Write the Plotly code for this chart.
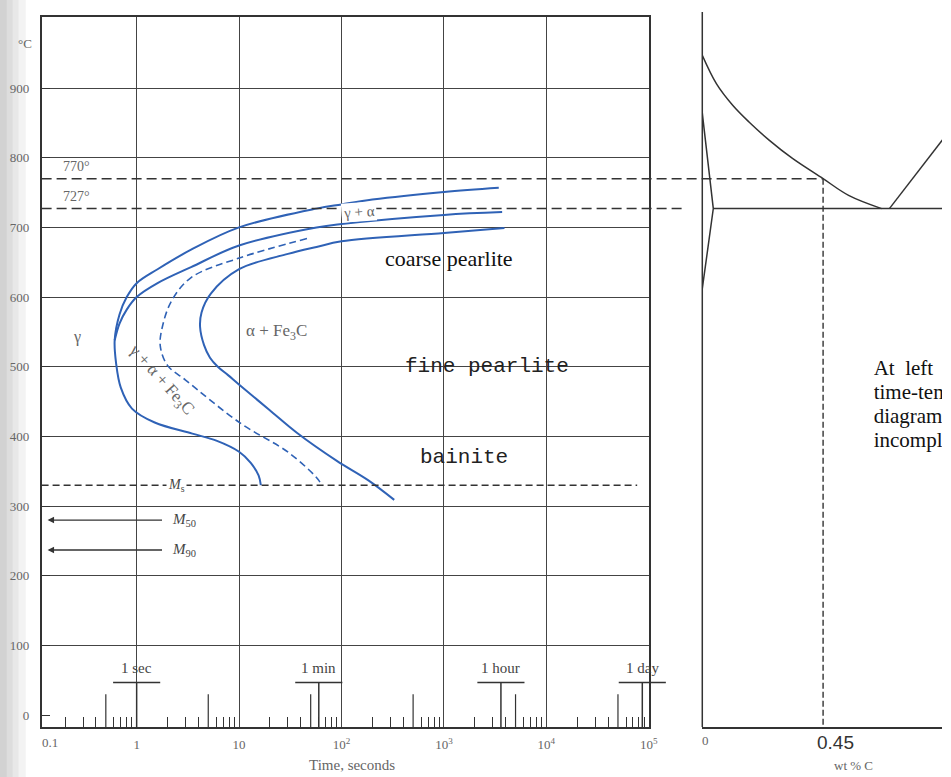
import math
import plotly.graph_objects as go

W, H = 951, 777

# ---------------- data: TTT diagram (time in s, temperature in degC) ----------------
start_upper_t = [3430, 1000, 200, 100, 57, 10, 3.4, 1.6, 1.0, 0.8, 0.68, 0.61]
start_upper_T = [757, 751, 740, 733, 727, 700, 668, 640, 620, 600, 575, 538]
start_lower_t = [0.63, 0.7, 0.9, 1.5, 3.5, 6, 10, 13, 15.5, 16.3]
start_lower_T = [505, 470, 440, 420, 404, 394, 378, 362, 344, 330]
pearl_t = [3700, 1000, 100, 57, 10, 3.4, 1.6, 1.0, 0.8, 0.68, 0.61]
pearl_T = [722, 718, 705, 700, 674, 643, 620, 600, 582, 562, 538]
half_t = [46, 10, 3.4, 2.2, 1.8, 1.7, 2.0, 3.0, 10.3, 31, 60, 63]
half_T = [684, 656, 628, 595, 560, 530, 502, 481, 419, 376, 337, 330]
finish_t = [3900, 1000, 100, 57, 30, 10, 5.3, 4.3, 4.16, 4.55, 5.2, 6.2, 7.8, 9.9, 19.8, 36.9, 90, 183, 327]
finish_T = [699, 692, 680, 672, 662, 640, 605, 578, 557, 531, 513, 500, 488, 475, 438, 405, 365, 337, 309]

A3_T = 770          # upper critical line
A1_T = 727          # eutectoid line
ms_T = 330          # martensite start
ms_span = [0.118, 7.7e4]
m50_T = 280
m90_T = 237
m_arrow_t = [1.83, 0.135]   # tail, head

temp_ticks = [0, 100, 200, 300, 400, 500, 600, 700, 800, 900]
temp_grid = [100, 200, 300, 400, 500, 600, 700, 800, 900]
time_ticks = [1, 10, 100, 1000, 10000, 100000]
time_ticktext = ["1", "10", "10<sup>2</sup>", "10<sup>3</sup>", "10<sup>4</sup>", "10<sup>5</sup>"]
decades = [0.1, 1, 10, 100, 1000, 10000]
minor_mult = [2, 3, 4, 6, 7, 8, 9]
tall_mult = [5]

time_marks = [1, 60, 3600, 86400]
time_mark_labels = ["1 sec", "1 min", "1 hour", "1 day"]

# ---------------- data: partial Fe-C phase diagram (wt% C, degC) ----------------
a3_wt = [0.0, 0.053, 0.114, 0.175, 0.25, 0.336, 0.45, 0.545, 0.668]
a3_T = [947, 906, 875, 851, 825, 799, 770, 746, 727]
ferrite_wt = [0.0, 0.041, 0.0]
ferrite_T = [864, 727, 612]
eut_wt = [0.041, 0.95]
eut_T = [727, 727]
acm_wt = [0.697, 0.95]
acm_T = [727, 853]
steel_wt = 0.45

side_lines = ["At\u00a0\u00a0left", "time-temperature", "diagram", "incomplete"]

# ---------------- geometry ----------------
XR = (-0.928, 5.0)
XD = (42 / W, 655 / W)
YR = (-17, 1002)
YD = ((H - 727) / H, (H - 17) / H)
X2D = (709 / W, 1.0)
X2R = (0.0, 242 / 271)


def xp(t):
    return XD[0] + (math.log10(t) - XR[0]) / (XR[1] - XR[0]) * (XD[1] - XD[0])


def x2p(w):
    return X2D[0] + (w - X2R[0]) / (X2R[1] - X2R[0]) * (X2D[1] - X2D[0])


BLUE = "#2f62b6"
INK = "#333333"
GRAY = "#666666"
SERIF = "Liberation Serif, Times New Roman, serif"
MONO = "Liberation Mono, Courier New, monospace"

fig = go.Figure()

curve_line = dict(color=BLUE, width=2, shape="spline", smoothing=1.0)
fig.add_trace(go.Scatter(x=start_upper_t + start_lower_t, y=start_upper_T + start_lower_T,
                         mode="lines", line=curve_line, hoverinfo="skip"))
fig.add_trace(go.Scatter(x=pearl_t, y=pearl_T, mode="lines", line=curve_line, hoverinfo="skip"))
fig.add_trace(go.Scatter(x=half_t, y=half_T, mode="lines",
                         line=dict(color=BLUE, width=1.6, dash="7px,4px", shape="spline", smoothing=1.0),
                         hoverinfo="skip"))
fig.add_trace(go.Scatter(x=finish_t, y=finish_T, mode="lines", line=curve_line, hoverinfo="skip"))

# Ms line
fig.add_trace(go.Scatter(x=ms_span, y=[ms_T, ms_T], mode="lines",
                         line=dict(color=INK, width=1.4, dash="7px,4px"), hoverinfo="skip"))

# tall (5x) ticks along the time axis
tx, ty = [], []
for d in decades:
    for m in tall_mult:
        tx += [d * m, d * m, None]
        ty += [YR[0], 30, None]
fig.add_trace(go.Scatter(x=tx, y=ty, mode="lines", line=dict(color=INK, width=1.2), hoverinfo="skip"))

# phase diagram (right panel)
for xs, ys, sh in [(a3_wt, a3_T, "spline"), (ferrite_wt, ferrite_T, "linear"),
                   (eut_wt, eut_T, "linear"), (acm_wt, acm_T, "linear")]:
    fig.add_trace(go.Scatter(x=xs, y=ys, mode="lines", xaxis="x2", yaxis="y2",
                             line=dict(color=INK, width=1.5, shape=sh), hoverinfo="skip"))
fig.add_trace(go.Scatter(x=[steel_wt, steel_wt], y=[A3_T, YR[0]], mode="lines", xaxis="x2", yaxis="y2",
                         line=dict(color=INK, width=1.4, dash="6px,3px"), hoverinfo="skip"))

# side text (cut off at the right edge like the scanned page)
fig.add_trace(go.Scatter(x=[0] * len(side_lines), y=[370 + 24 * i for i in range(len(side_lines))],
                         mode="text", text=side_lines, textposition="middle right",
                         textfont=dict(family=SERIF, size=21, color="#111111"),
                         xaxis="x3", yaxis="y3", cliponaxis=True, hoverinfo="skip"))

shapes = []
for x0, x1, c in [(0, 7, "#d2d2d2"), (7, 13, "#dddddd"), (13, 19, "#e8e8e8"), (19, 26, "#f3f3f3")]:
    shapes.append(dict(type="rect", xref="paper", yref="paper", x0=x0 / W, x1=x1 / W, y0=0, y1=1,
                       fillcolor=c, line=dict(width=0), layer="below"))
shapes.append(dict(type="line", xref="paper", yref="y", x0=XD[0], x1=x2p(steel_wt), y0=A3_T, y1=A3_T,
                   line=dict(color=INK, width=1.5, dash="10px,5px")))
shapes.append(dict(type="line", xref="paper", yref="y", x0=XD[0], x1=690 / W, y0=A1_T, y1=A1_T,
                   line=dict(color=INK, width=1.5, dash="10px,5px")))
for t in time_marks:
    shapes.append(dict(type="line", xref="paper", yref="y", x0=xp(t), x1=xp(t), y0=YR[0], y1=47,
                       line=dict(color=INK, width=1.5)))
    shapes.append(dict(type="line", xref="paper", yref="y", x0=xp(t / 10 ** 0.23), x1=xp(t * 10 ** 0.23),
                       y0=47, y1=47, line=dict(color=INK, width=1.5)))
shapes.append(dict(type="line", xref="paper", yref="paper", x0=x2p(0), x1=x2p(0),
                   y0=YD[0], y1=(H - 12) / H, line=dict(color=INK, width=1.5)))

ann = []


def lab(x, y, text, size=13, color=GRAY, family=SERIF, angle=0, bg=None, xref="x", yref="y", **kw):
    d = dict(x=x, y=y, xref=xref, yref=yref, text=text, showarrow=False, textangle=angle,
             xanchor="center", yanchor="middle",
             font=dict(size=size, color=color, family=family))
    if bg:
        d["bgcolor"] = bg
        d["borderpad"] = 1
    d.update(kw)
    ann.append(d)


lab(25 / W, (H - 44) / H, "°C", xref="paper", yref="paper")
lab(50 / W, (H - 742) / H, "0.1", xref="paper", yref="paper")
lab(355 / W, (H - 765) / H, "Time, seconds", size=15, xref="paper", yref="paper")
lab(-0.59, 788, "770°", size=14)
lab(-0.59, 744, "727°", size=14)
lab(-0.58, 543, "γ", size=16)
lab(1.364, 550, "α + Fe<sub>3</sub>C", size=17)
lab(0.233, 481, "γ + α + Fe<sub>3</sub>C", size=17, angle=48)
lab(2.167, 722, "γ + α", size=15, angle=-4, bg="white")
lab(3.047, 655, "coarse pearlite", size=22, color="#111111")
lab(3.424, 500, "fine pearlite", size=21, color="#222222", family=MONO)
lab(3.192, 370, "bainite", size=21, color="#222222", family=MONO)
lab(0.39, ms_T, "<i>M</i><sub>s</sub>", size=14, color="#444444", bg="white")
lab(0.46, m50_T, "<i>M</i><sub>50</sub>", size=15, color="#444444")
lab(0.46, m90_T, "<i>M</i><sub>90</sub>", size=15, color="#444444")
for t, s in zip(time_marks, time_mark_labels):
    lab(math.log10(t), 68, s, size=15, color="#444444")
for T in [m50_T, m90_T]:
    ann.append(dict(x=math.log10(m_arrow_t[1]), y=T, ax=math.log10(m_arrow_t[0]), ay=T,
                    xref="x", yref="y", axref="x", ayref="y", text="", showarrow=True,
                    arrowhead=2, arrowsize=1, arrowwidth=1.3, arrowcolor=INK, standoff=0, startstandoff=0))
lab(712 / W, (H - 740) / H, "0", size=13, xref="paper", yref="paper")
lab(843 / W, (H - 742) / H, "0.45", size=19, color="#333333", family="Liberation Sans, Arial, sans-serif",
    xref="paper", yref="paper")
lab(862 / W, (H - 765) / H, "wt % C", size=13, xref="paper", yref="paper")

fig.update_layout(
    width=W, height=H, margin=dict(l=0, r=0, t=0, b=0),
    paper_bgcolor="white", plot_bgcolor="rgba(0,0,0,0)",
    showlegend=False, shapes=shapes, annotations=ann,
    xaxis=dict(type="log", range=list(XR), domain=list(XD), anchor="y",
               tickvals=time_ticks, ticktext=time_ticktext, ticks="", ticklabelstandoff=5,
               tickfont=dict(family=SERIF, size=13, color=GRAY),
               showgrid=True, gridcolor="#444444", gridwidth=1.2, zeroline=False,
               showline=True, linecolor=INK, linewidth=1.5, mirror=True,
               minor=dict(tickvals=[d * m for d in decades for m in minor_mult], ticks="inside",
                          ticklen=10, tickcolor=INK, tickwidth=1.2, showgrid=False)),
    yaxis=dict(range=list(YR), domain=list(YD), anchor="x",
               tickvals=temp_ticks, ticktext=[str(v) for v in temp_ticks],
               ticks="inside", ticklen=9, tickcolor=INK, tickwidth=1.2, ticklabelstandoff=8,
               tickfont=dict(family=SERIF, size=13, color=GRAY),
               showgrid=False, zeroline=False,
               showline=True, linecolor=INK, linewidth=1.5, mirror=True,
               minor=dict(tickvals=temp_grid, showgrid=True, gridcolor="#444444", gridwidth=1.2, ticks="")),
    xaxis2=dict(range=list(X2R), domain=list(X2D), anchor="y2", showgrid=False, zeroline=False,
                showticklabels=False, ticks="", showline=True, linecolor=INK, linewidth=1.5),
    yaxis2=dict(range=list(YR), domain=list(YD), anchor="x2", visible=False, showgrid=False),
    xaxis3=dict(range=[0, 1], domain=[882 / W, 1.0], anchor="y3", visible=False),
    yaxis3=dict(range=[H, 0], domain=[0, 1], anchor="x3", visible=False),
)

fig.write_html("out.html", config={"displayModeBar": False},
               post_script="document.body.style.margin='0';document.body.style.overflow='hidden';")
